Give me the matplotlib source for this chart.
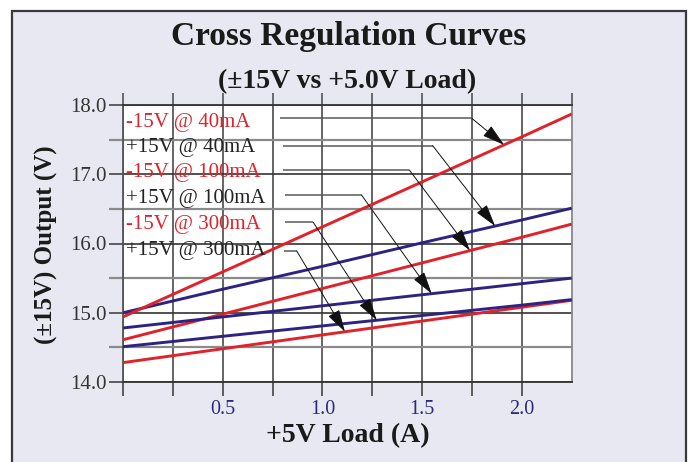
import matplotlib
matplotlib.use('Agg')
import matplotlib.pyplot as plt
import numpy as np
from matplotlib.patches import Rectangle

plt.rcParams['font.family'] = ['Liberation Serif', 'DejaVu Serif']

# ---- data ----
load_a = [0.0, 0.5, 1.0, 1.5, 2.0, 2.25]
neg15_40mA = [14.94, 15.59, 16.24, 16.89, 17.54, 17.87]
pos15_40mA = [15.00, 15.34, 15.67, 16.01, 16.34, 16.51]
neg15_100mA = [14.61, 14.98, 15.35, 15.72, 16.09, 16.28]
pos15_100mA = [14.78, 14.94, 15.10, 15.26, 15.42, 15.50]
neg15_300mA = [14.28, 14.48, 14.68, 14.88, 15.08, 15.18]
pos15_300mA = [14.51, 14.66, 14.81, 14.96, 15.11, 15.19]

label_texts = ['-15V @ 40mA', '+15V @ 40mA', '-15V @ 100mA',
               '+15V @ 100mA', '-15V @ 300mA', '+15V @ 300mA']
x_tick_vals = [0.0, 0.25, 0.5, 0.75, 1.0, 1.25, 1.5, 1.75, 2.0]
x_tick_labels = ['', '', '0.5', '', '1.0', '', '1.5', '', '2.0']
y_major = [14.0, 15.0, 16.0, 17.0, 18.0]
y_minor = [14.5, 15.5, 16.5, 17.5]

RED = '#E0222A'
BLUE = '#2D2380'

fig = plt.figure(figsize=(6.88, 4.62), dpi=100, facecolor='white')
fig.patches.append(Rectangle((12 / 688, -0.05), (686 - 12) / 688, (1 - 11 / 462) + 0.05,
                             transform=fig.transFigure, facecolor='#E8E8F2',
                             edgecolor='#3a3a3a', lw=1.6, zorder=-10))

ax = fig.add_axes([123 / 688, 1 - 382 / 462, (571.7 - 123) / 688, (382 - 105) / 462])
ax.set_facecolor('white')
ax.set_xlim(0, 2.25)
ax.set_ylim(14, 18)
ax.set_axisbelow(True)

ax.set_xticks(x_tick_vals)
ax.set_xticklabels(x_tick_labels)
ax.set_yticks(y_major)
ax.set_yticklabels([f'{v:.1f}' for v in y_major])
ax.set_yticks(y_minor, minor=True)

ax.tick_params(axis='x', which='major', direction='out', length=10, width=1.2,
               color='#444444', labelsize=14.5, labelcolor='#2D2A7A', pad=3)
ax.tick_params(axis='y', which='major', direction='out', length=10, width=1.2,
               color='#444444', labelsize=15, labelcolor='#333333', pad=2)
ax.tick_params(axis='y', which='minor', direction='out', length=10, width=1.6,
               color='#8a8a8a')

top = ax.secondary_xaxis('top')
top.set_xticks(x_tick_vals + [2.25])
top.set_xticklabels([])
top.tick_params(direction='out', length=9, width=1.2, color='#555555')
top.spines['top'].set_visible(False)

ax.grid(axis='x', which='major', color='#4a4a4a', lw=1.2)
ax.grid(axis='y', which='major', color='#333333', lw=1.2)
ax.grid(axis='y', which='minor', color='#8a8a8a', lw=1.6)

for s, c in [('left', '#555555'), ('top', '#333333'), ('bottom', '#333333'), ('right', '#888888')]:
    ax.spines[s].set_color(c)
    ax.spines[s].set_linewidth(1.3)

series = [(neg15_300mA, RED), (pos15_300mA, BLUE), (neg15_100mA, RED),
          (pos15_100mA, BLUE), (pos15_40mA, BLUE), (neg15_40mA, RED)]
for ys, c in series:
    ax.plot(load_a, ys, color=c, lw=2.1, zorder=3, solid_capstyle='butt')

# ---- labels with leader arrows ----
label_colors = [RED, '#222222', RED, '#222222', RED, '#222222']
label_base_y = [17.687, 17.326, 16.956, 16.58, 16.205, 15.834]
leader_y = [17.808, 17.412, 17.061, 16.696, 16.306, 15.892]
leader_x0 = [0.787, 0.801, 0.802, 0.811, 0.812, 0.807]
bend_x = [1.749, 1.553, 1.436, 1.197, 0.954, 0.871]
tip_x = [1.911, 1.866, 1.740, 1.548, 1.272, 1.113]
targets = [neg15_40mA, pos15_40mA, neg15_100mA, pos15_100mA, pos15_300mA, neg15_300mA]

for i, txt in enumerate(label_texts):
    ax.text(0.016, label_base_y[i], txt, color=label_colors[i], fontsize=15,
            ha='left', va='baseline', zorder=4)
    ax.plot([leader_x0[i], bend_x[i]], [leader_y[i], leader_y[i]],
            color='#5a5a5a', lw=1.1, zorder=4, solid_capstyle='butt')
    ty = float(np.interp(tip_x[i], load_a, targets[i]))
    ax.annotate('', xy=(tip_x[i], ty), xytext=(bend_x[i], leader_y[i]),
                arrowprops=dict(arrowstyle='-|>,head_length=1.4,head_width=0.4',
                                color='#111111', lw=0.7, mutation_scale=10,
                                shrinkA=0, shrinkB=0),
                zorder=5)

# ---- titles ----
fig.text(349 / 688, 1 - 45 / 462, 'Cross Regulation Curves', fontsize=24,
         fontweight='bold', ha='center', va='baseline', color='#1a1a1a')
fig.text(347.5 / 688, 1 - 88 / 462, '(±15V vs +5.0V Load)', fontsize=20,
         fontweight='bold', ha='center', va='baseline', color='#1a1a1a')
fig.text(348 / 688, 1 - 442 / 462, '+5V Load (A)', fontsize=20,
         fontweight='bold', ha='center', va='baseline', color='#1a1a1a')
fig.text(46 / 688, 1 - 244.5 / 462, '(±15V) Output (V)', fontsize=18,
         fontweight='bold', ha='center', va='center', rotation=90, color='#1a1a1a')

fig.savefig('out.png', dpi=100, facecolor=fig.get_facecolor())
